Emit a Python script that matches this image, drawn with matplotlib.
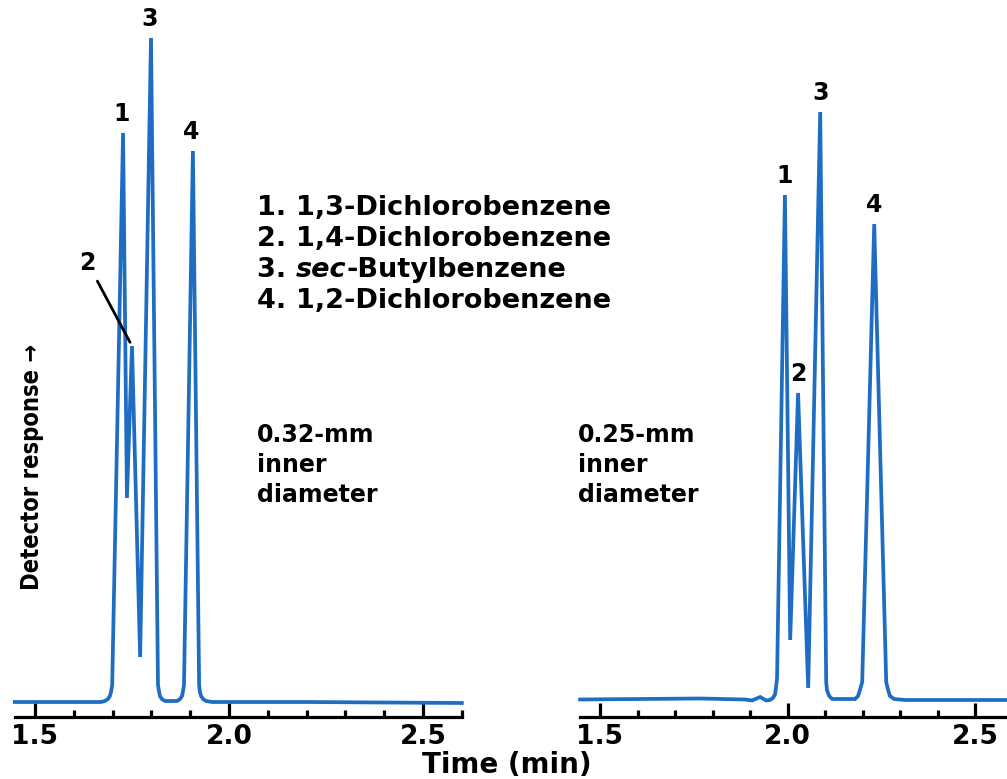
import matplotlib
matplotlib.use("Agg")
import matplotlib.pyplot as plt
from matplotlib.ticker import MultipleLocator
from matplotlib.text import Annotation
from matplotlib import font_manager

plt.rcParams['font.family'] = ['DejaVu Sans']

# ---- data (time in min, detector response in arbitrary units) ----
left_time = [1.448, 1.600, 1.670, 1.680, 1.688, 1.693, 1.696, 1.699, 1.727, 1.737,
             1.750, 1.771, 1.799, 1.817, 1.820, 1.822, 1.827, 1.835, 1.866, 1.874,
             1.879, 1.881, 1.884, 1.907, 1.923, 1.925, 1.928, 1.933, 1.941, 1.956,
             2.200, 2.600]
left_resp = [0, 0, 0, 1, 3, 6, 10, 17, 569, 204,
             356, 45, 664, 17, 10, 6, 3, 1, 1, 3,
             6, 10, 17, 551, 17, 10, 6, 3, 1, 0,
             0, -1]

right_time = [1.447, 1.767, 1.887, 1.905, 1.927, 1.943, 1.953, 1.961, 1.967, 1.969,
              1.972, 1.993, 2.007, 2.028, 2.055, 2.087, 2.103, 2.105, 2.111, 2.119,
              2.180, 2.188, 2.193, 2.199, 2.231, 2.263, 2.268, 2.273, 2.284, 2.313,
              2.585]
right_resp = [2.5, 3.5, 2.5, 1.5, 5, 1.5, 2, 4, 8, 14,
              24, 507, 62, 309, 14, 590, 20, 12, 6, 3,
              3, 6, 12, 20, 478, 20, 12, 6, 3, 2,
              2]

# peak apexes (time, response) and their labels
left_peaks_t = [1.727, 1.750, 1.799, 1.907]
left_peaks_r = [569, 356, 664, 551]
right_peaks_t = [1.993, 2.028, 2.087, 2.231]
right_peaks_r = [507, 309, 590, 478]
peak_labels = ["1", "2", "3", "4"]

compounds = ["1,3-Dichlorobenzene", "1,4-Dichlorobenzene", "sec-Butylbenzene", "1,2-Dichlorobenzene"]
column_labels = ["0.32-mm\ninner\ndiameter", "0.25-mm\ninner\ndiameter"]
major_ticks = [1.5, 2.0, 2.5]
tick_labels = ["1.5", "2.0", "2.5"]

BLUE = '#1f6dc3'
W, H = 1007, 779
fig = plt.figure(figsize=(W / 100, H / 100), dpi=100)
FS = 17


def make_axes(left_px, right_px, xlim):
    ax = fig.add_axes([left_px / W, (H - 717) / H, (right_px - left_px) / W, 717 / H])
    ax.set_xlim(*xlim)
    ax.set_ylim(-15, 702)
    for s in ['top', 'left', 'right']:
        ax.spines[s].set_visible(False)
    ax.spines['bottom'].set_linewidth(2.3)
    ax.set_yticks([])
    ax.set_xticks(major_ticks)
    ax.set_xticklabels(tick_labels)
    ax.xaxis.set_minor_locator(MultipleLocator(0.1))
    ax.tick_params(axis='x', which='major', direction='in', length=10, width=2.3,
                   pad=5, labelsize=19)
    ax.tick_params(axis='x', which='minor', direction='in', length=5, width=2.3)
    for lab in ax.get_xticklabels():
        lab.set_fontweight('bold')
    ax.patch.set_visible(False)
    return ax


axL = make_axes(15, 462, (1.4485, 2.6005))
axR = make_axes(580, 1007, (1.4467, 2.585))

axL.plot(left_time, left_resp, color=BLUE, lw=2.7, solid_joinstyle='miter', clip_on=False)
axR.plot(right_time, right_resp, color=BLUE, lw=2.7, solid_joinstyle='miter', clip_on=False)

lab_kw = dict(textcoords='offset points', ha='center', va='center',
              fontsize=FS, fontweight='bold')
for i, (t, r) in enumerate(zip(left_peaks_t, left_peaks_r)):
    if i == 1:
        axL.annotate(peak_labels[i], xy=(t, r), xytext=(-32, 60),
                     arrowprops=dict(arrowstyle='-', color='black', lw=2.0,
                                     shrinkA=3, shrinkB=3), **lab_kw)
    else:
        axL.annotate(peak_labels[i], xy=(t, r), xytext=(-1, 14), **lab_kw)
for i, (t, r) in enumerate(zip(right_peaks_t, right_peaks_r)):
    axR.annotate(peak_labels[i], xy=(t, r), xytext=(0, 14), **lab_kw)

# compound list
LFS = 19.5
txt_kw = dict(fontsize=LFS, fontweight='bold', va='bottom', ha='left')
y0 = 208
for i, name in enumerate(compounds):
    yc = (H - (y0 + 31 * i)) / H
    num = fig.text(257 / W, yc, f"{i + 1}. ", va='center', ha='left',
                   fontsize=LFS, fontweight='bold')
    if name.startswith("sec-"):
        a = fig.add_artist(Annotation("sec", xy=(1, 0), xycoords=num,
                                      fontstyle='italic', **txt_kw))
        fig.add_artist(Annotation(name[3:], xy=(1, 0), xycoords=a, **txt_kw))
    else:
        fig.add_artist(Annotation(name, xy=(1, 0), xycoords=num, **txt_kw))

fig.text(257 / W, (H - 423) / H, column_labels[0], ha='left', va='top',
         fontsize=FS, fontweight='bold', linespacing=1.31)
fig.text(578 / W, (H - 423) / H, column_labels[1], ha='left', va='top',
         fontsize=FS, fontweight='bold', linespacing=1.31)

fig.text(507 / W, (H - 765) / H, "Time (min)", ha='center', va='center',
         fontsize=20, fontweight='bold')

# condensed bold font for the vertical axis title
try:
    font_manager.findfont(font_manager.FontProperties(family='Liberation Sans Narrow',
                                                      weight='bold'),
                          fallback_to_default=False)
    yl_kw = dict(family=['Liberation Sans Narrow', 'DejaVu Sans'], fontsize=19)
except Exception:
    yl_kw = dict(family=['DejaVu Sans'], fontstretch='condensed', fontsize=17)
fig.text(32 / W, (H - 467) / H, "Detector response \u2192", rotation=90,
         ha='center', va='center', fontweight='bold', **yl_kw)

fig.savefig("out.png", dpi=100)
